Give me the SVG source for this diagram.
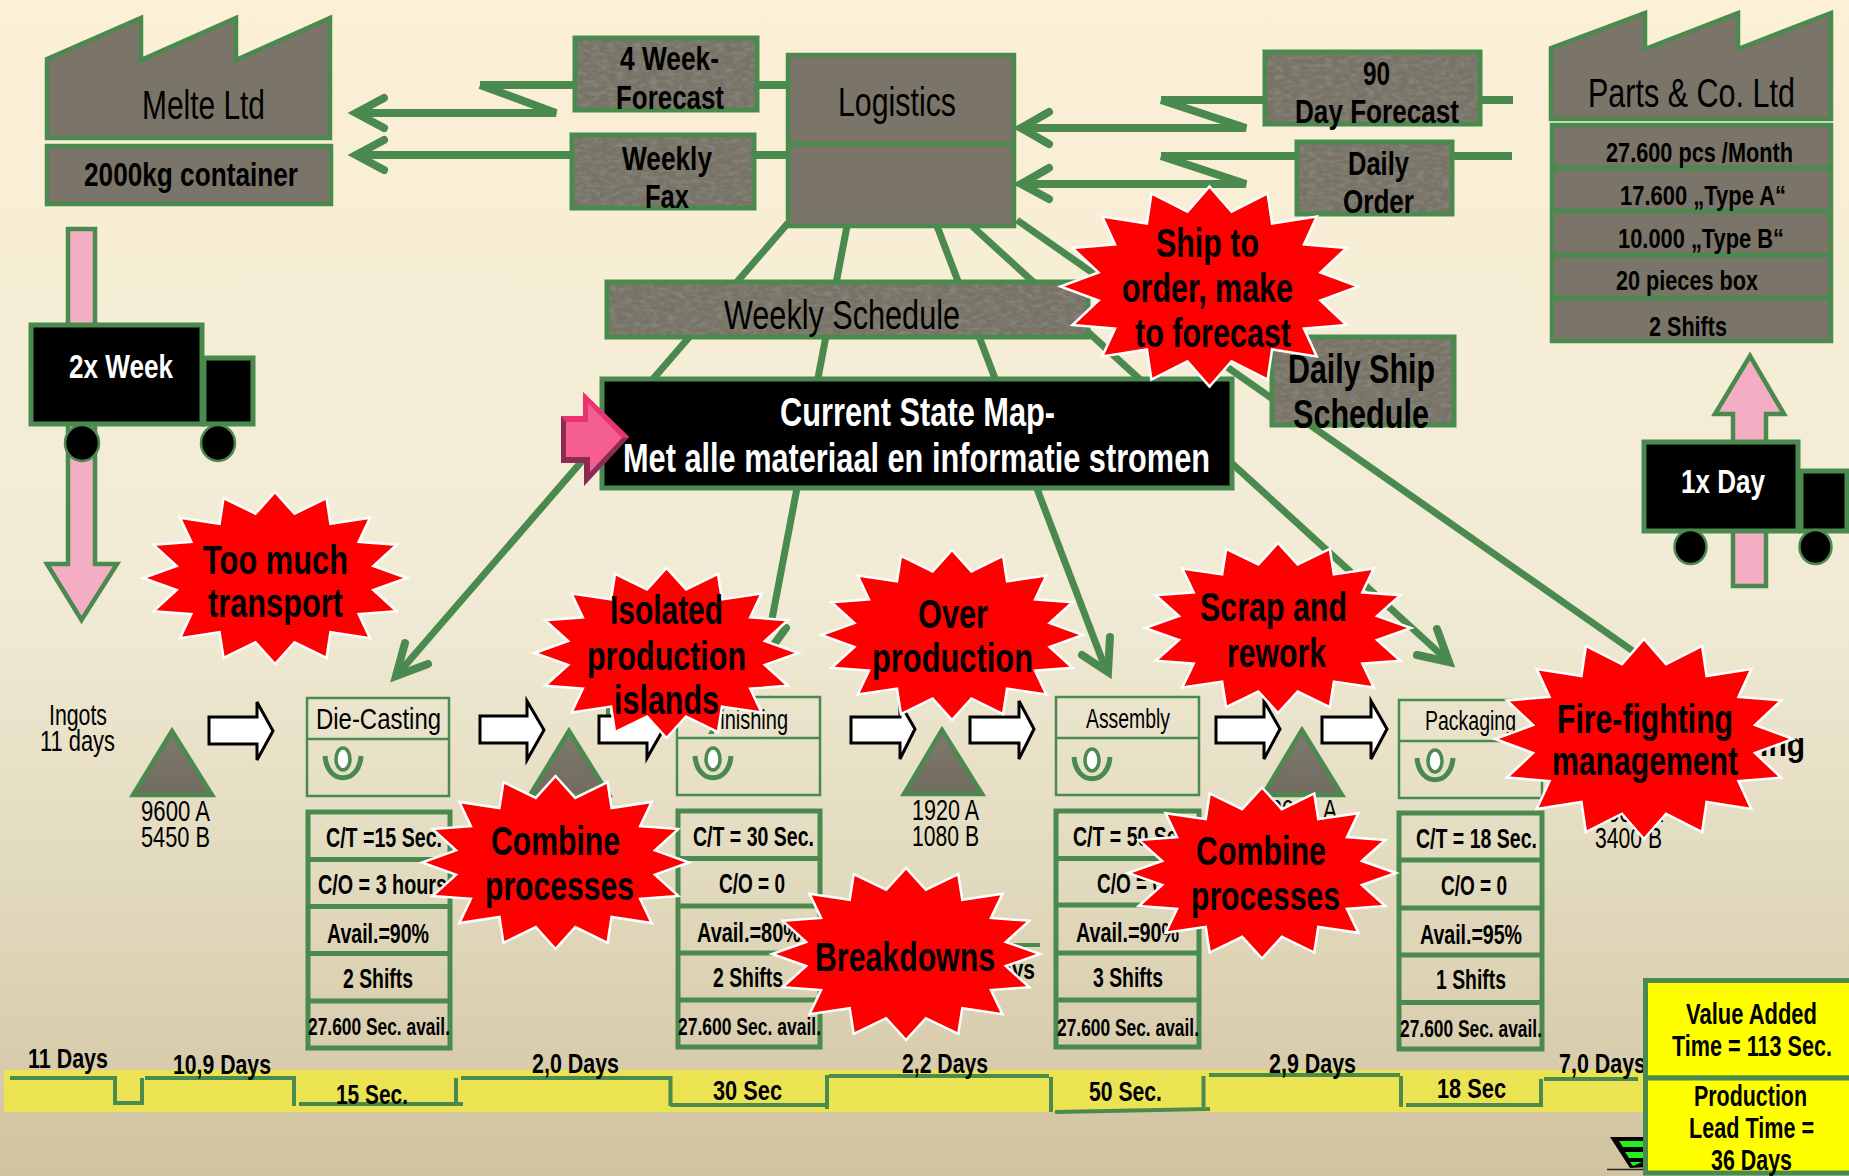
<svg xmlns="http://www.w3.org/2000/svg" width="1849" height="1176" viewBox="0 0 1849 1176">
<style>
text{font-family:"Liberation Sans",Arial,sans-serif;fill:#000}
.b{font-weight:700}
.w{fill:#fff}
.f36{font-size:40px;transform:translateY(1.5px)}.f30{font-size:33px;transform:translateY(1px)}.f27{font-size:29px}.f25{font-size:27px}.f22{font-size:24px}
.grey{fill:#7a7568;stroke:#4a8a4e;stroke-width:4.5}
.tx{fill:#787366;filter:url(#grain)}
.edge{fill:none;stroke:#4a8a4e;stroke-width:5}
.gl{fill:none;stroke:#4a8a4e;stroke-width:7}
.ah{fill:none;stroke:#4a8a4e;stroke-width:8;stroke-linecap:round;stroke-linejoin:miter}
.tl{fill:none;stroke:#4a8a4e;stroke-width:4}
.data{fill:none;stroke:#4a8a4e;stroke-width:5}
.proc{fill:none;stroke:#4a8a4e;stroke-width:2.5}
.push{fill:#fff;stroke:#000;stroke-width:3}
.pink{fill:#f4aec3;stroke:#4a8a4e;stroke-width:4.5}
.tri{fill:url(#tg);stroke:#4a8a4e;stroke-width:4.5}
.blk{fill:#000;stroke:#4a8a4e;stroke-width:5}
.whl{fill:#000;stroke:#4a8a4e;stroke-width:2.5}
.star{fill:#f00;stroke:#fff;stroke-width:2.5;stroke-miterlimit:12;vector-effect:non-scaling-stroke}
.yel{fill:#ff0;stroke:#4a8a4e;stroke-width:5}
</style>
<defs>
<linearGradient id="bg" x1="0" y1="0" x2="0" y2="1">
<stop offset="0" stop-color="#fcf0d6"/><stop offset=".5" stop-color="#f1ebd6"/><stop offset=".75" stop-color="#e2dabe"/><stop offset="1" stop-color="#d1c3a0"/>
</linearGradient>
<linearGradient id="tg" x1="0" y1="0" x2="0" y2="1"><stop offset="0" stop-color="#7d796c"/><stop offset="1" stop-color="#716c5f"/></linearGradient>
<filter id="grain" x="0" y="0" width="100%" height="100%">
<feTurbulence type="fractalNoise" baseFrequency=".12 .25" numOctaves="3" seed="4" result="n"/>
<feColorMatrix in="n" type="matrix" values="0 0 0 0 .35  0 0 0 0 .35  0 0 0 0 .33  .8 0 0 0 -.32" result="d"/>
<feComposite in="d" in2="SourceGraphic" operator="in" result="m"/>
<feMerge><feMergeNode in="SourceGraphic"/><feMergeNode in="m"/></feMerge>
</filter>
<path id="burst" class="star" d="M0,-100 L14.8,-74.7 39,-93 42,-63 72,-70 63.4,-42 92,-38.6 74.5,-14 100,0 74.5,14 92,38.6 63.4,42 72,70 42,63 39,93 14.8,74.7 0,100 -14.8,74.7 -39,93 -42,63 -72,70 -63.4,42 -92,38.6 -74.5,14 -100,0 -74.5,-14 -92,-38.6 -63.4,-42 -72,-70 -42,-63 -39,-93 -14.8,-74.7Z"/>
<g id="op"><ellipse rx="7" ry="11" fill="#fff" stroke="#4a8a4e" stroke-width="3.5"/><path d="M-18,-3C-16,26 16,26 18,-3" fill="none" stroke="#4a8a4e" stroke-width="5"/></g>
</defs>
<rect width="1849" height="1176" fill="url(#bg)"/>

<g id="timeline-band"><rect x="4" y="1070" width="1645" height="42" fill="#ece352"/></g>

<g id="connectors">
<path class="gl" d="M788,223L396,676"/>
<path class="ah" d="M405,643L396,676 428,664"/>
<path class="gl" d="M847,226L772,619"/>
<path class="ah" d="M786,628L770,650"/>
<path d="M606,708h4v12h-4zM708,734l5,-8l1,8z" fill="#4a8a4e"/>
<path class="gl" d="M937,226L1106,670"/>
<path class="ah" d="M1110,637L1108,672 1082,655"/>
<path class="gl" d="M972,226L1447,660"/>
<path class="ah" d="M1437,629L1449,662 1417,655"/>
<path class="gl" d="M1017,220L1640,656"/>
<path class="ah" d="M480,85H573M759,85H786M1161,100H1263M1482,100H1513M1161,156H1295M1454,156H1512M570,155H358M756,155H786" style="stroke-linecap:butt"/>
<path class="ah" d="M480,85L556,113H358" style="stroke-linecap:butt"/>
<path class="ah" d="M384,98L356,113 384,128M384,140L356,155 384,170"/>
<path class="ah" d="M1161,100L1246,128H1023M1161,156L1246,184H1023" style="stroke-linecap:butt"/>
<path class="ah" d="M1049,112L1021,128 1049,144M1049,168L1021,184 1049,199"/>
<path class="tl" d="M10,1078H115V1105M115,1103H142M142,1078V1105M145,1078H294V1106M299,1104H463M456,1078V1104M461,1078H670.5V1106M670.5,1105H827M827,1075V1109M829,1076H1049M1051,1077V1112M1055,1112L1210,1109M1203.5,1076V1107M1209,1075H1400M1401,1076V1107M1406,1105H1541V1079M1544,1079H1638M985,945H1040"/>
</g>

<g id="melte"><polygon class="grey" points="47,59 141,18 141,60 236,18 236,60 330,18 330,138 47,138"/><text x="142" y="117" class="f36" textLength="123" lengthAdjust="spacingAndGlyphs">Melte Ltd</text>
<rect class="grey" x="47" y="146" width="284" height="58"/><text x="84" y="185" class="f30 b" textLength="214" lengthAdjust="spacingAndGlyphs">2000kg container</text></g>

<g id="forecast4"><rect class="tx" x="575" y="38" width="182" height="72"/><rect class="edge" x="575" y="38" width="182" height="72"/><text x="620" y="69" class="f30 b" textLength="99" lengthAdjust="spacingAndGlyphs">4 Week-</text><text x="616" y="108" class="f30 b" textLength="108" lengthAdjust="spacingAndGlyphs">Forecast</text></g>
<g id="fax"><rect class="tx" x="572" y="135" width="182" height="73"/><rect class="edge" x="572" y="135" width="182" height="73"/><text x="622" y="169" class="f30 b" textLength="90" lengthAdjust="spacingAndGlyphs">Weekly</text><text x="645" y="207" class="f30 b" textLength="44" lengthAdjust="spacingAndGlyphs">Fax</text></g>

<g id="logistics"><rect class="grey" x="788" y="55" width="226" height="171"/><path class="data" d="M788,144H1014"/><text x="838" y="114" class="f36" textLength="118" lengthAdjust="spacingAndGlyphs">Logistics</text></g>

<g id="forecast90"><rect class="tx" x="1265" y="52" width="215" height="72"/><rect class="edge" x="1265" y="52" width="215" height="72"/><text x="1363" y="84" class="f30 b" textLength="27" lengthAdjust="spacingAndGlyphs">90</text><text x="1295" y="122" class="f30 b" textLength="164" lengthAdjust="spacingAndGlyphs">Day Forecast</text></g>
<g id="daily-order"><rect class="tx" x="1297" y="142" width="155" height="72"/><rect class="edge" x="1297" y="142" width="155" height="72"/><text x="1348" y="174" class="f30 b" textLength="61" lengthAdjust="spacingAndGlyphs">Daily</text><text x="1343" y="212" class="f30 b" textLength="71" lengthAdjust="spacingAndGlyphs">Order</text></g>

<g id="parts"><polygon class="grey" points="1551,48 1645,13 1645,49 1738,13 1738,49 1831,13 1831,119 1551,119"/><text x="1588" y="105" class="f36" textLength="207" lengthAdjust="spacingAndGlyphs">Parts &amp; Co. Ltd</text>
<rect class="grey" x="1552" y="125" width="279" height="216"/><path class="data" d="M1552,168H1831M1552,211H1831M1552,255H1831M1552,298H1831"/>
<text x="1606" y="162" class="f25 b" textLength="187" lengthAdjust="spacingAndGlyphs">27.600 pcs /Month</text>
<text x="1620" y="205" class="f25 b" textLength="166" lengthAdjust="spacingAndGlyphs">17.600 „Type A“</text>
<text x="1618" y="248" class="f25 b" textLength="166" lengthAdjust="spacingAndGlyphs">10.000 „Type B“</text>
<text x="1616" y="290" class="f25 b" textLength="142" lengthAdjust="spacingAndGlyphs">20 pieces box</text>
<text x="1649" y="336" class="f25 b" textLength="78" lengthAdjust="spacingAndGlyphs">2 Shifts</text></g>

<g id="weekly-schedule"><rect class="tx" x="607" y="282" width="481" height="55"/><rect class="edge" x="607" y="282" width="481" height="55"/><text x="724" y="327" class="f36" textLength="236" lengthAdjust="spacingAndGlyphs">Weekly Schedule</text></g>
<g id="daily-ship"><rect class="tx" x="1272" y="337" width="182" height="88"/><rect class="edge" x="1272" y="337" width="182" height="88"/><text x="1288" y="381" class="f36 b" textLength="147" lengthAdjust="spacingAndGlyphs">Daily Ship</text><text x="1293" y="426" class="f36 b" textLength="136" lengthAdjust="spacingAndGlyphs">Schedule</text></g>

<g id="current-state"><rect class="blk" x="602" y="379" width="630" height="109"/>
<text x="780" y="424" class="f36 b w" textLength="275" lengthAdjust="spacingAndGlyphs">Current State Map-</text>
<text x="623" y="470" class="f36 b w" textLength="587" lengthAdjust="spacingAndGlyphs">Met alle materiaal en informatie stromen</text></g>
<g id="pink-marker"><polygon points="561,416 583,416 583,392 629,437 584,486 584,463 561,463" fill="#f55e90"/><polygon points="561,416 583,416 583,392 629,437 622,438 588,403 588,422 566,422" fill="#e8336f"/><polygon points="561,463 584,463 584,486 629,437 622,438 590,472 590,457 566,457 566,422 561,416" fill="#8a2a55"/></g>

<g id="truck-in"><polygon class="pink" points="68,229 95,229 95,564 117,564 81.5,620 47,564 68,564"/><rect class="blk" x="31" y="325" width="171" height="99"/><rect class="blk" x="204" y="358" width="49" height="66"/><ellipse class="whl" cx="82" cy="443" rx="17" ry="18"/><ellipse class="whl" cx="218" cy="443" rx="17" ry="18"/><text x="69" y="377" class="f30 b w" textLength="104" lengthAdjust="spacingAndGlyphs">2x Week</text></g>
<g id="truck-out"><polygon class="pink" points="1750,356 1784,414 1766,414 1766,586 1733,586 1733,414 1715,414"/><rect class="blk" x="1644" y="442" width="154" height="89"/><rect class="blk" x="1801" y="471" width="46" height="60"/><ellipse class="whl" cx="1690.5" cy="547" rx="16" ry="17"/><ellipse class="whl" cx="1815.5" cy="547" rx="16" ry="17"/><text x="1681" y="492" class="f30 b w" textLength="84" lengthAdjust="spacingAndGlyphs">1x Day</text></g>

<g id="ingots"><text x="49" y="725" class="f27" textLength="58" lengthAdjust="spacingAndGlyphs">Ingots</text><text x="40" y="751" class="f27" textLength="75" lengthAdjust="spacingAndGlyphs">11 days</text><polygon class="tri" points="172,731 133,795 212,795"/><text x="141" y="821" class="f27" textLength="69" lengthAdjust="spacingAndGlyphs">9600 A</text><text x="141" y="847" class="f27" textLength="69" lengthAdjust="spacingAndGlyphs">5450 B</text></g>
<g id="push-arrows">
<polygon class="push" points="209,717 257,717 257,702 273,731 257,760 257,744 209,744"/>
<polygon class="push" points="480,716 527,716 527,701 544,730 527,760 527,743 480,743"/>
<polygon class="push" points="599,716 647,716 647,701 663,730 647,758 647,743 599,743"/>
<polygon class="push" points="851,717 900,717 900,703 915,729 900,759 900,743 851,743"/>
<polygon class="push" points="970,717 1019,717 1019,701 1034,729 1019,759 1019,743 970,743"/>
<polygon class="push" points="1216,717 1264,717 1264,701 1280,729 1264,759 1264,743 1216,743"/>
<polygon class="push" points="1322,717 1371,717 1371,701 1387,729 1371,759 1371,743 1322,743"/>
</g>
<g id="inv2"><polygon class="tri" points="569,731 530,795 609,795"/></g>
<g id="inv3"><polygon class="tri" points="942,730 904,794 982,794"/><text x="912" y="820" class="f27" textLength="67" lengthAdjust="spacingAndGlyphs">1920 A</text><text x="912" y="846" class="f27" textLength="67" lengthAdjust="spacingAndGlyphs">1080 B</text></g>
<g id="inv4"><polygon class="tri" points="1302,730 1263,795 1342,795"/><text x="1270" y="820" class="f27" textLength="67" lengthAdjust="spacingAndGlyphs">2000 A</text></g>
<g id="inv5"><text x="1595" y="822" class="f27" textLength="68" lengthAdjust="spacingAndGlyphs">2000 A</text><text x="1595" y="848" class="f27" textLength="67" lengthAdjust="spacingAndGlyphs">3400 B</text><text x="1677" y="755" class="f30 b" textLength="128" lengthAdjust="spacingAndGlyphs">Shipping</text></g>

<g id="die-casting"><rect class="proc" x="307" y="698" width="142" height="98"/><path class="proc" d="M307,739H449"/><text x="316" y="729" class="f27" textLength="125" lengthAdjust="spacingAndGlyphs">Die-Casting</text><use href="#op" x="343" y="759"/>
<rect class="data" x="308" y="812" width="142" height="236"/><path class="data" d="M308,859.5H450M308,906.5H450M308,953.5H450M308,1001H450"/>
<text x="326" y="847" class="f25 b" textLength="116" lengthAdjust="spacingAndGlyphs">C/T =15 Sec.</text><text x="318" y="894" class="f25 b" textLength="129" lengthAdjust="spacingAndGlyphs">C/O = 3 hours</text><text x="327" y="943" class="f25 b" textLength="102" lengthAdjust="spacingAndGlyphs">Avail.=90%</text><text x="343" y="988" class="f25 b" textLength="70" lengthAdjust="spacingAndGlyphs">2 Shifts</text><text x="308" y="1035" class="f22 b" textLength="142" lengthAdjust="spacingAndGlyphs">27.600 Sec. avail.</text></g>

<g id="finishing"><rect class="proc" x="677" y="697" width="143" height="98"/><path class="proc" d="M677,738H820"/><text x="708" y="729" class="f25" textLength="80" lengthAdjust="spacingAndGlyphs">Finishing</text><use href="#op" x="713" y="759"/>
<rect class="data" x="678" y="811" width="142" height="236"/><path class="data" d="M678,858.5H820M678,906H820M678,953H820M678,1000H820"/>
<text x="693" y="846" class="f25 b" textLength="121" lengthAdjust="spacingAndGlyphs">C/T = 30 Sec.</text><text x="719" y="893" class="f25 b" textLength="66" lengthAdjust="spacingAndGlyphs">C/O = 0</text><text x="697" y="942" class="f25 b" textLength="104" lengthAdjust="spacingAndGlyphs">Avail.=80%</text><text x="713" y="987" class="f25 b" textLength="70" lengthAdjust="spacingAndGlyphs">2 Shifts</text><text x="678" y="1035" class="f22 b" textLength="143" lengthAdjust="spacingAndGlyphs">27.600 Sec. avail.</text></g>

<g id="assembly"><rect class="proc" x="1056" y="697" width="143" height="98"/><path class="proc" d="M1056,738H1199"/><text x="1086" y="728" class="f25" textLength="84" lengthAdjust="spacingAndGlyphs">Assembly</text><use href="#op" x="1092" y="760"/>
<rect class="data" x="1056" y="811" width="143" height="236"/><path class="data" d="M1056,858.5H1199M1056,905H1199M1056,953H1199M1056,1000H1199"/>
<text x="1073" y="846" class="f25 b" textLength="121" lengthAdjust="spacingAndGlyphs">C/T = 50 Sec.</text><text x="1097" y="893" class="f25 b" textLength="66" lengthAdjust="spacingAndGlyphs">C/O = 0</text><text x="1076" y="942" class="f25 b" textLength="103" lengthAdjust="spacingAndGlyphs">Avail.=90%</text><text x="1093" y="987" class="f25 b" textLength="70" lengthAdjust="spacingAndGlyphs">3 Shifts</text><text x="1057" y="1036" class="f22 b" textLength="142" lengthAdjust="spacingAndGlyphs">27.600 Sec. avail.</text></g>

<g id="packaging"><rect class="proc" x="1399" y="700" width="143" height="98"/><path class="proc" d="M1399,741H1542"/><text x="1425" y="730" class="f25" textLength="91" lengthAdjust="spacingAndGlyphs">Packaging</text><use href="#op" x="1435" y="761"/>
<rect class="data" x="1399" y="813" width="143" height="236"/><path class="data" d="M1399,860H1542M1399,908H1542M1399,955H1542M1399,1002.5H1542"/>
<text x="1416" y="848" class="f25 b" textLength="121" lengthAdjust="spacingAndGlyphs">C/T = 18 Sec.</text><text x="1441" y="895" class="f25 b" textLength="66" lengthAdjust="spacingAndGlyphs">C/O = 0</text><text x="1420" y="944" class="f25 b" textLength="102" lengthAdjust="spacingAndGlyphs">Avail.=95%</text><text x="1436" y="989" class="f25 b" textLength="70" lengthAdjust="spacingAndGlyphs">1 Shifts</text><text x="1400" y="1037" class="f22 b" textLength="142" lengthAdjust="spacingAndGlyphs">27.600 Sec. avail.</text></g>

<g id="timeline-labels">
<text x="28" y="1068" class="f25 b" textLength="80" lengthAdjust="spacingAndGlyphs">11 Days</text>
<text x="173" y="1074" class="f25 b" textLength="98" lengthAdjust="spacingAndGlyphs">10,9 Days</text>
<text x="336" y="1104" class="f25 b" textLength="72" lengthAdjust="spacingAndGlyphs">15 Sec.</text>
<text x="532" y="1073" class="f25 b" textLength="87" lengthAdjust="spacingAndGlyphs">2,0 Days</text>
<text x="713" y="1100" class="f25 b" textLength="69" lengthAdjust="spacingAndGlyphs">30 Sec</text>
<text x="902" y="1073" class="f25 b" textLength="86" lengthAdjust="spacingAndGlyphs">2,2 Days</text>
<text x="1089" y="1101" class="f25 b" textLength="73" lengthAdjust="spacingAndGlyphs">50 Sec.</text>
<text x="1269" y="1073" class="f25 b" textLength="87" lengthAdjust="spacingAndGlyphs">2,9 Days</text>
<text x="1437" y="1098" class="f25 b" textLength="69" lengthAdjust="spacingAndGlyphs">18 Sec</text>
<text x="1559" y="1073" class="f25 b" textLength="87" lengthAdjust="spacingAndGlyphs">7,0 Days</text>
<text x="985" y="979" class="f25 b" textLength="50" lengthAdjust="spacingAndGlyphs">Days</text>
</g>

<g id="timeline-symbol"><polygon points="1610,1137 1650,1137 1650,1167 1630,1168" fill="#000"/><polygon points="1619,1141 1650,1141 1650,1147 1623,1147" fill="#2e2"/><polygon points="1625,1152 1650,1152 1650,1158 1629,1158" fill="#2e2"/><polygon points="1630,1162 1642,1162 1633,1166" fill="#2e2"/><path d="M1607,1169.5H1645" stroke="#222" stroke-width="1.5"/></g>

<g id="summary"><rect class="yel" x="1645.5" y="980.5" width="210" height="97.5"/><rect class="yel" x="1645.5" y="1078" width="210" height="95"/>
<text x="1686" y="1024" class="f27 b" textLength="131" lengthAdjust="spacingAndGlyphs">Value Added</text>
<text x="1672" y="1056" class="f27 b" textLength="160" lengthAdjust="spacingAndGlyphs">Time = 113 Sec.</text>
<text x="1694" y="1106" class="f27 b" textLength="113" lengthAdjust="spacingAndGlyphs">Production</text>
<text x="1689" y="1138" class="f27 b" textLength="125" lengthAdjust="spacingAndGlyphs">Lead Time =</text>
<text x="1711" y="1170" class="f27 b" textLength="81" lengthAdjust="spacingAndGlyphs">36 Days</text></g>

<g id="burst-ship"><use href="#burst" transform="translate(1209.5,286.5) scale(1.49,1)"/><text x="1156" y="255" class="f36 b" textLength="103" lengthAdjust="spacingAndGlyphs">Ship to</text><text x="1122" y="300" class="f36 b" textLength="171" lengthAdjust="spacingAndGlyphs">order, make</text><text x="1135" y="345" class="f36 b" textLength="156" lengthAdjust="spacingAndGlyphs">to forecast</text></g>
<g id="burst-transport"><use href="#burst" transform="translate(275,578) scale(1.32,.86)"/><text x="203" y="572" class="f36 b" textLength="145" lengthAdjust="spacingAndGlyphs">Too much</text><text x="208" y="615" class="f36 b" textLength="135" lengthAdjust="spacingAndGlyphs">transport</text></g>
<g id="burst-islands"><use href="#burst" transform="translate(666.5,653) scale(1.32,.85)"/><text x="610" y="622" class="f36 b" textLength="113" lengthAdjust="spacingAndGlyphs">Isolated</text><text x="587" y="668" class="f36 b" textLength="159" lengthAdjust="spacingAndGlyphs">production</text><text x="614" y="712" class="f36 b" textLength="105" lengthAdjust="spacingAndGlyphs">islands</text></g>
<g id="burst-over"><use href="#burst" transform="translate(952,635) scale(1.31,.85)"/><text x="918" y="626" class="f36 b" textLength="70" lengthAdjust="spacingAndGlyphs">Over</text><text x="872" y="670" class="f36 b" textLength="161" lengthAdjust="spacingAndGlyphs">production</text></g>
<g id="burst-scrap"><use href="#burst" transform="translate(1278,628) scale(1.33,.85)"/><text x="1200" y="619" class="f36 b" textLength="147" lengthAdjust="spacingAndGlyphs">Scrap and</text><text x="1227" y="665" class="f36 b" textLength="99" lengthAdjust="spacingAndGlyphs">rework</text></g>
<g id="burst-combine1"><use href="#burst" transform="translate(555.5,862.5) scale(1.335,.865)"/><text x="491" y="853" class="f36 b" textLength="129" lengthAdjust="spacingAndGlyphs">Combine</text><text x="485" y="898" class="f36 b" textLength="149" lengthAdjust="spacingAndGlyphs">processes</text></g>
<g id="burst-breakdowns"><use href="#burst" transform="translate(906,954) scale(1.34,.86)"/><text x="815" y="969" class="f36 b" textLength="180" lengthAdjust="spacingAndGlyphs">Breakdowns</text></g>
<g id="burst-combine2"><use href="#burst" transform="translate(1262,873) scale(1.34,.855)"/><text x="1196" y="863" class="f36 b" textLength="130" lengthAdjust="spacingAndGlyphs">Combine</text><text x="1191" y="908" class="f36 b" textLength="149" lengthAdjust="spacingAndGlyphs">processes</text></g>
<g id="burst-fire"><use href="#burst" transform="translate(1644,739) scale(1.49,1)"/><text x="1557" y="731" class="f36 b" textLength="176" lengthAdjust="spacingAndGlyphs">Fire-fighting</text><text x="1552" y="773" class="f36 b" textLength="186" lengthAdjust="spacingAndGlyphs">management</text></g>
</svg>
